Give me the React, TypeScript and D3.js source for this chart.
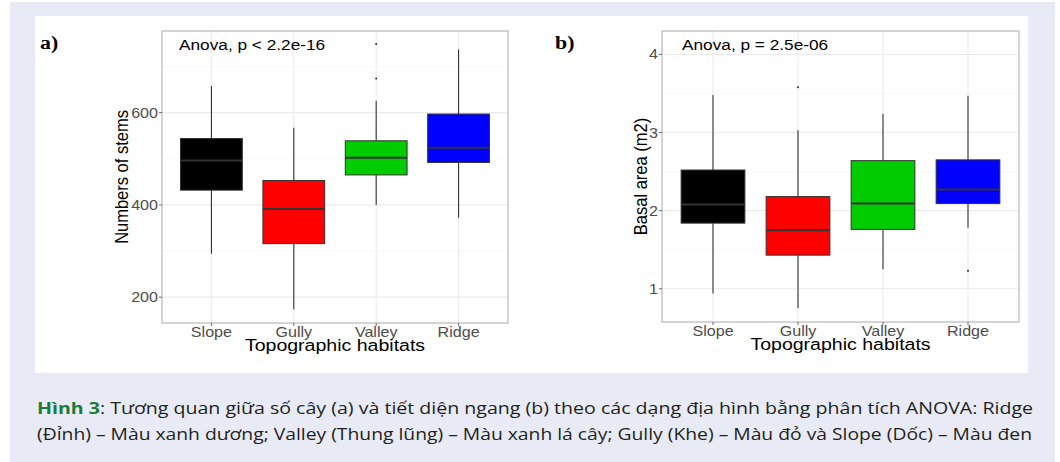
import React from "react"
import * as d3 from "d3"

const width = 1060
const height = 462

// categories and fills
const habitats = ["Slope", "Gully", "Valley", "Ridge"]
const fills = ["#000000", "#ff0000", "#00cc00", "#0000ff"]

// a) numbers of stems
const stemsLower = [294, 174, 400, 372]
const stemsQ1 = [432, 316, 465, 492]
const stemsMedian = [496, 391, 502, 524]
const stemsQ3 = [544, 453, 539, 597]
const stemsUpper = [658, 567, 626, 737]
const stemsOutliers = [[], [], [674, 749], []]
const stemsTicks = [200, 400, 600]
const stemsMinor = [300, 500, 700]

// b) basal area
const basalLower = [0.94, 0.75, 1.25, 1.78]
const basalQ1 = [1.84, 1.43, 1.76, 2.09]
const basalMedian = [2.08, 1.75, 2.09, 2.27]
const basalQ3 = [2.52, 2.18, 2.64, 2.65]
const basalUpper = [3.48, 3.03, 3.24, 3.47]
const basalOutliers = [[], [3.58], [], [1.23]]
const basalTicks = [1, 2, 3, 4]
const basalMinor = [1.5, 2.5, 3.5]

const SX = 1.15 // the figure is stretched sideways
const font = "'Liberation Sans', Arial, sans-serif"

const T = ({ x, y, size, anchor = "start", fill = "#000", rotate = 0, weight = "normal", family = font, children }: any) => (
  <text
    transform={`translate(${x},${y}) scale(${SX},1) rotate(${rotate})`}
    fontSize={size}
    textAnchor={anchor}
    fill={fill}
    fontWeight={weight}
    fontFamily={family}
  >
    {children}
  </text>
)

const Panel = ({ box, domain, ticks, minor, stats, outliers, tag, tagX, anova, anovaX, yTitle, yTitleX }: any) => {
  const [left, top, right, bottom] = box
  const x = d3.scalePoint().domain(habitats).range([left, right]).padding(0.6)
  const y = d3.scaleLinear().domain(domain).range([bottom, top])
  const bw = x.step() * 0.75
  const [lower, q1, med, q3, upper] = stats
  return (
    <g>
      <rect x={left} y={top} width={right - left} height={bottom - top} fill="#fff" />
      {minor.map((t: number) => (
        <line key={"mi" + t} x1={left} x2={right} y1={y(t)} y2={y(t)} stroke="#f3f3f3" strokeWidth={0.6} />
      ))}
      {ticks.map((t: number) => (
        <line key={"ma" + t} x1={left} x2={right} y1={y(t)} y2={y(t)} stroke="#ebebeb" strokeWidth={1.1} />
      ))}
      {habitats.map(h => (
        <line key={"v" + h} x1={x(h)} x2={x(h)} y1={top} y2={bottom} stroke="#ebebeb" strokeWidth={1.1} />
      ))}
      {habitats.map((h, i) => {
        const cx = x(h) as number
        return (
          <g key={h}>
            <line x1={cx} x2={cx} y1={y(upper[i])} y2={y(q3[i])} stroke="#333" strokeWidth={1.1} />
            <line x1={cx} x2={cx} y1={y(q1[i])} y2={y(lower[i])} stroke="#333" strokeWidth={1.1} />
            <rect
              x={cx - bw / 2}
              y={y(q3[i])}
              width={bw}
              height={y(q1[i]) - y(q3[i])}
              fill={fills[i]}
              stroke="#333"
              strokeWidth={1}
            />
            <line x1={cx - bw / 2} x2={cx + bw / 2} y1={y(med[i])} y2={y(med[i])} stroke="#333" strokeWidth={2} />
            {outliers[i].map((o: number) => (
              <circle key={o} cx={cx} cy={y(o)} r={1} fill="#222" />
            ))}
          </g>
        )
      })}
      <rect x={left} y={top} width={right - left} height={bottom - top} fill="none" stroke="#aaa" strokeWidth={1} />
      {ticks.map((t: number) => (
        <g key={"t" + t}>
          <line x1={left - 3} x2={left} y1={y(t)} y2={y(t)} stroke="#444" strokeWidth={0.8} />
          <T x={left - 4} y={y(t) + 5} size={14} anchor="end" fill="#4d4d4d">{t}</T>
        </g>
      ))}
      {habitats.map(h => (
        <g key={"xt" + h}>
          <line x1={x(h)} x2={x(h)} y1={bottom} y2={bottom + 3} stroke="#444" strokeWidth={0.8} />
          <T x={x(h)} y={bottom + 14} size={14} anchor="middle" fill="#4d4d4d">{h}</T>
        </g>
      ))}
      <T x={(left + right) / 2} y={bottom + 28} size={17} anchor="middle">Topographic habitats</T>
      <T x={yTitleX} y={(top + bottom) / 2} size={16.5} anchor="middle" rotate={-90}>{yTitle}</T>
      <T x={anovaX} y={50} size={15}>{anova}</T>
      <T x={tagX} y={49} size={19} weight="bold" family="'Liberation Serif', 'Times New Roman', serif">{tag}</T>
    </g>
  )
}

export default function App() {
  return (
    <div style={{ position: "absolute", left: 0, top: 0 }}>
      <svg width={width} height={height} style={{ display: "block" }}>
        <rect x={0} y={0} width={width} height={height} fill="#fff" />
        <rect x={10} y={2} width={1045} height={height - 2} fill="#e8ebf6" />
        <rect x={35} y={16} width={993} height={357} fill="#fff" />
        <Panel
          box={[162, 31, 508, 323]}
          domain={[144, 777]}
          ticks={stemsTicks}
          minor={stemsMinor}
          stats={[stemsLower, stemsQ1, stemsMedian, stemsQ3, stemsUpper]}
          outliers={stemsOutliers}
          tag="a)"
          tagX={40}
          anova="Anova, p < 2.2e-16"
          anovaX={179}
          yTitle="Numbers of stems"
          yTitleX={128}
        />
        <Panel
          box={[662, 31, 1019, 322]}
          domain={[0.574, 4.3]}
          ticks={basalTicks}
          minor={basalMinor}
          stats={[basalLower, basalQ1, basalMedian, basalQ3, basalUpper]}
          outliers={basalOutliers}
          tag="b)"
          tagX={555}
          anova="Anova, p = 2.5e-06"
          anovaX={682}
          yTitle="Basal area (m2)"
          yTitleX={647}
        />
        <text x={37} y={414} fontSize={16} fontFamily="'Open Sans', sans-serif" fill="#231f20" textLength={996} lengthAdjust="spacingAndGlyphs">
          <tspan fill="#1b7a3c" fontWeight="bold">Hình 3</tspan>: Tương quan giữa số cây (a) và tiết diện ngang (b) theo các dạng địa hình bằng phân tích ANOVA: Ridge
        </text>
        <text x={37} y={440} fontSize={16} fontFamily="'Open Sans', sans-serif" fill="#231f20" textLength={995} lengthAdjust="spacingAndGlyphs">
          (Đỉnh) – Màu xanh dương; Valley (Thung lũng) – Màu xanh lá cây; Gully (Khe) – Màu đỏ và Slope (Dốc) – Màu đen
        </text>
      </svg>
    </div>
  )
}
